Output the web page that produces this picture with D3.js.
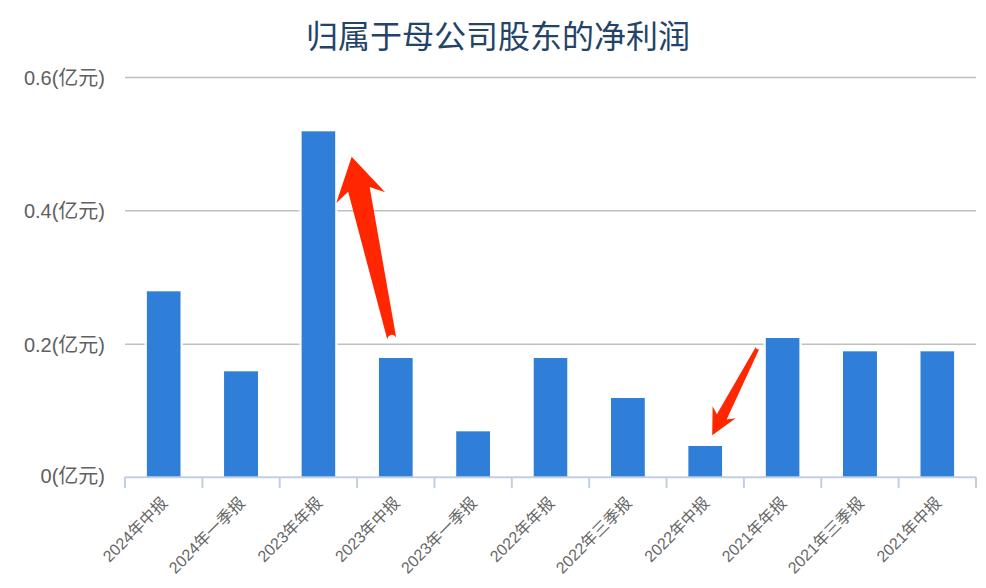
<!DOCTYPE html>
<html><head><meta charset="utf-8">
<script src="https://cdn.jsdelivr.net/npm/d3@7"></script>
<style>body{margin:0;background:#fff;}svg{display:block;font-family:"Liberation Sans","Noto Sans CJK SC",sans-serif;}</style>
</head><body>
<svg id="c" width="986" height="588"></svg>
<script>
const title = "归属于母公司股东的净利润";
const categories = ["2024年中报","2024年一季报","2023年年报","2023年中报","2023年一季报","2022年年报","2022年三季报","2022年中报","2021年年报","2021年三季报","2021年中报"];
const values = [0.28,0.16,0.52,0.18,0.07,0.18,0.12,0.048,0.21,0.19,0.19];
const yTicks = [0,0.2,0.4,0.6];
const yUnit = "(亿元)";
// annotations: arrows in data units (category position, value)
const arrows = [
  {tail:[3.45,0.208], tip:[2.93,0.482], head:42, headHalf:25, base:11, tailW:4.5},
  {tail:[8.18,0.196], tip:[7.59,0.064], head:26, headHalf:13, base:5.5, tailW:2}
];

const svg = d3.select("#c");
const L=125, R=976, T=78, B=478;
const x = d3.scaleBand().domain(categories).range([L,R]).paddingInner(0.56).paddingOuter(0.28);
const xc = d3.scaleLinear().domain([0,categories.length]).range([L,R]);
const y = d3.scaleLinear().domain([0,0.6]).range([B,T]);

svg.append("text").attr("x",498).attr("y",48).attr("text-anchor","middle")
  .attr("font-size",32).attr("fill","#234467").text(title);

// gridlines
svg.append("g").selectAll("line").data(yTicks.filter(d=>d>0)).join("line")
  .attr("x1",L).attr("x2",R).attr("y1",d=>y(d)-0.5).attr("y2",d=>y(d)-0.5)
  .attr("stroke","#c0c0c0").attr("stroke-width",1.5);

// y labels
svg.append("g").selectAll("text").data(yTicks).join("text")
  .attr("x",105).attr("y",d=>Math.min(y(d),B-2)+7).attr("text-anchor","end")
  .attr("font-size",20).attr("fill","#606060").text(d=>d+yUnit);

// bars
svg.append("g").selectAll("rect").data(values).join("rect")
  .attr("x",(d,i)=>x(categories[i])).attr("width",x.bandwidth())
  .attr("y",d=>y(d)).attr("height",d=>B-y(d)).attr("fill","#2f7ed8");
// white bar borders (gap in gridlines next to bars)
svg.append("g").selectAll("rect").data(values).join("rect")
  .attr("x",(d,i)=>x(categories[i])-2).attr("width",2)
  .attr("y",d=>y(d)).attr("height",d=>B-y(d)).attr("fill","#fff");
svg.append("g").selectAll("rect").data(values).join("rect")
  .attr("x",(d,i)=>x(categories[i])+x.bandwidth()).attr("width",2)
  .attr("y",d=>y(d)).attr("height",d=>B-y(d)).attr("fill","#fff");

// x axis
svg.append("line").attr("x1",L).attr("x2",R).attr("y1",B-0.7).attr("y2",B-0.7).attr("stroke","#c0d0e0").attr("stroke-width",2);
svg.append("g").selectAll("line").data(d3.range(categories.length+1)).join("line")
  .attr("x1",d=>xc(d)).attr("x2",d=>xc(d)).attr("y1",B-1).attr("y2",B+10)
  .attr("stroke","#c0d0e0").attr("stroke-width",2);
svg.append("g").selectAll("text").data(categories).join("text")
  .attr("transform",d=>`translate(${x(d)+x.bandwidth()/2+5},${B+26}) rotate(-45)`)
  .attr("text-anchor","end").attr("font-size",16).attr("fill","#666666").text(d=>d);

// arrows
function arrowPath(a){
  const tx=xc(a.tip[0]), ty=y(a.tip[1]), sx=xc(a.tail[0]), sy=y(a.tail[1]);
  const dx=tx-sx, dy=ty-sy, len=Math.hypot(dx,dy);
  const ux=dx/len, uy=dy/len, nx=-uy, ny=ux;
  const hb=[tx-ux*a.head, ty-uy*a.head];
  const sb=[tx-ux*a.head*0.8, ty-uy*a.head*0.8];
  const p=[
    [sx+nx*a.tailW, sy+ny*a.tailW],
    [sb[0]+nx*a.base, sb[1]+ny*a.base],
    [hb[0]+nx*a.headHalf, hb[1]+ny*a.headHalf],
    [tx,ty],
    [hb[0]-nx*a.headHalf, hb[1]-ny*a.headHalf],
    [sb[0]-nx*a.base, sb[1]-ny*a.base],
    [sx-nx*a.tailW, sy-ny*a.tailW]
  ];
  return "M"+p.map(q=>q.join(",")).join("L")+`A${a.tailW},${a.tailW} 0 0 1 ${p[0][0]},${p[0][1]}Z`;
}
svg.append("g").selectAll("path").data(arrows).join("path")
  .attr("d",arrowPath).attr("fill","#ff2600");
</script>
</body></html>
